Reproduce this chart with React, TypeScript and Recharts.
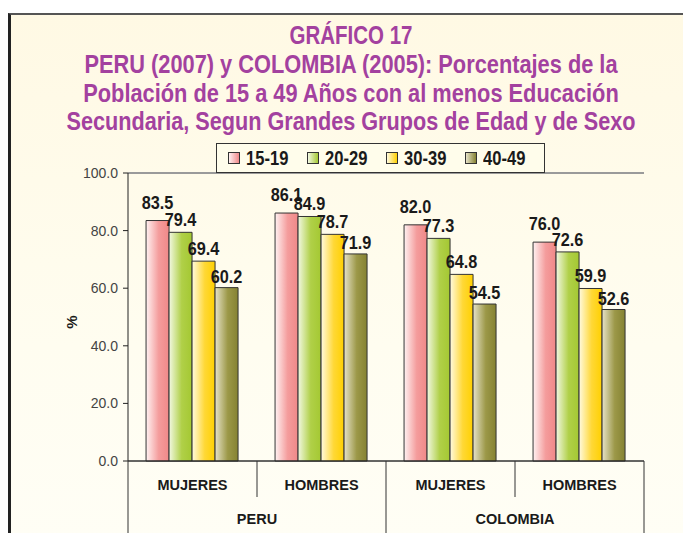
import React from 'react';
import { BarChart, Bar, XAxis, YAxis, CartesianGrid, LabelList, Legend, ReferenceLine } from 'recharts';

const sexes = ['MUJERES', 'HOMBRES', 'MUJERES', 'HOMBRES'];
const countries = ['PERU', 'PERU', 'COLOMBIA', 'COLOMBIA'];
const age15_19 = [83.5, 86.1, 82.0, 76.0];
const age20_29 = [79.4, 84.9, 77.3, 72.6];
const age30_39 = [69.4, 78.7, 64.8, 59.9];
const age40_49 = [60.2, 71.9, 54.5, 52.6];
const yTicks = [0, 20, 40, 60, 80, 100];
const titleLines = [
  'GRÁFICO 17',
  'PERU (2007) y COLOMBIA (2005): Porcentajes de la',
  'Población de 15 a 49 Años con al menos Educación',
  'Secundaria, Segun Grandes Grupos de Edad y de Sexo',
];

const data = sexes.map((s, i) => ({
  sex: s,
  country: countries[i],
  a: age15_19[i],
  b: age20_29[i],
  c: age30_39[i],
  d: age40_49[i],
}));

const series = [
  { key: 'a', name: '15-19', id: 'gPink', light: '#fff2f2', mid: '#f49c9c', dark: '#f08888', labelOffset: 12 },
  { key: 'b', name: '20-29', id: 'gGreen', light: '#f2f8e2', mid: '#b0d048', dark: '#a4c832', labelOffset: 6 },
  { key: 'c', name: '30-39', id: 'gYellow', light: '#fffae0', mid: '#ffd836', dark: '#ffd000', labelOffset: 6 },
  { key: 'd', name: '40-49', id: 'gOlive', light: '#e6e2c8', mid: '#9c9848', dark: '#858232', labelOffset: 5 },
];

const ARIAL = "'Liberation Sans', Arial, sans-serif";

const W = 683;
const H = 533;
const PLOT_LEFT = 128;
const PLOT_RIGHT = 644;
const PLOT_TOP = 173;
const PLOT_BOTTOM = 461;
const BAND = (PLOT_RIGHT - PLOT_LEFT) / data.length;
const TITLE_SCALES = [0.82, 0.872, 0.872, 0.866];
const TITLE_BASELINES = [44, 73, 102, 130];

const CatTick = (props: any) => {
  const { x, y, payload, index } = props;
  const i = payload?.index ?? index;
  const d = data[i];
  const left = x - BAND / 2;
  const right = x + BAND / 2;
  const full = H - y;
  return (
    <g>
      <line x1={left} y1={y} x2={left} y2={i % 2 === 0 ? y + full : y + 36} stroke="#333" strokeWidth={1} />
      {i === data.length - 1 && <line x1={right} y1={y} x2={right} y2={y + full} stroke="#333" strokeWidth={1} />}
      <text x={x} y={y + 29} textAnchor="middle" fill="#1a1a1a" fontSize={14.5} fontWeight="bold" fontFamily={ARIAL}>
        {payload.value}
      </text>
      {i % 2 === 1 && (
        <text x={left} y={y + 63} textAnchor="middle" fill="#1a1a1a" fontSize={14.5} fontWeight="bold" fontFamily={ARIAL}>
          {d.country}
        </text>
      )}
    </g>
  );
};

const makeValueLabel = (off: number) => (props: any) => {
  const { x, y, width, value } = props;
  const cx = Number(x) + Number(width) / 2;
  const by = Number(y) - off;
  return (
    <text
      transform={`translate(${cx} ${by}) scale(0.88 1)`}
      x={0}
      y={0}
      textAnchor="middle"
      fill="#1a1a1a"
      fontSize={18.5}
      fontWeight="bold"
      fontFamily={ARIAL}
    >
      {Number(value).toFixed(1)}
    </text>
  );
};

const LegendContent = () => (
  <div
    style={{
      width: '100%',
      height: '100%',
      boxSizing: 'border-box',
      border: '1px solid #333',
      background: '#fffdeb',
      display: 'flex',
      alignItems: 'center',
      paddingLeft: 11,
    }}
  >
    {series.map((s) => (
      <div key={s.key} style={{ display: 'flex', alignItems: 'center', width: 83 }}>
        <span
          style={{
            display: 'inline-block',
            width: 10,
            height: 10,
            border: '1px solid #333',
            background: `linear-gradient(to right, ${s.light}, ${s.dark})`,
            marginRight: 6,
            flex: '0 0 auto',
          }}
        />
        <span
          style={{
            display: 'inline-block',
            fontFamily: ARIAL,
            fontWeight: 'bold',
            fontSize: 19.5,
            color: '#1a1a1a',
            lineHeight: '20px',
            transform: 'scaleX(0.85)',
            transformOrigin: 'left center',
            whiteSpace: 'nowrap',
          }}
        >
          {s.name}
        </span>
      </div>
    ))}
  </div>
);

const PercentLabel = (props: any) => {
  const { viewBox } = props;
  const cx = 71;
  const cy = viewBox.y + viewBox.height / 2 + 5;
  return (
    <text
      x={cx}
      y={cy}
      transform={`rotate(-90 ${cx} ${cy})`}
      textAnchor="middle"
      dominantBaseline="central"
      fontFamily={ARIAL}
      fontWeight="bold"
      fontSize={15}
      fill="#1a1a1a"
    >
      %
    </text>
  );
};

export default function App() {
  return (
    <div style={{ position: 'absolute', left: 0, top: 0, width: W, height: H, overflow: 'hidden', background: '#ffffff' }}>
      <div
        style={{
          position: 'absolute',
          left: 8,
          top: 13,
          width: W + 20,
          height: H + 20,
          borderLeft: '3px solid #222',
          borderTop: '2px solid #555',
          background: 'linear-gradient(to bottom, #fff9e4, #fffdf0 60%, #fffef6)',
        }}
      />
      <div style={{ position: 'absolute', left: 0, top: 0 }}>
        <BarChart
          width={W}
          height={H}
          data={data}
          margin={{ top: PLOT_TOP, right: W - PLOT_RIGHT, bottom: 0, left: PLOT_LEFT - 60 }}
          barCategoryGap="14%"
          barGap={0}
        >
          <defs>
            {series.map((s) => (
              <linearGradient key={s.id} id={s.id} x1="0" y1="0" x2="1" y2="0">
                <stop offset="0%" stopColor={s.light} />
                <stop offset="55%" stopColor={s.mid} />
                <stop offset="100%" stopColor={s.dark} />
              </linearGradient>
            ))}
          </defs>
          <CartesianGrid vertical={false} stroke="#555" strokeWidth={1} />
          <XAxis
            dataKey="sex"
            interval={0}
            height={H - PLOT_BOTTOM}
            tickSize={0}
            tickMargin={0}
            tickLine={false}
            axisLine={{ stroke: '#222', strokeWidth: 1 }}
            tick={<CatTick />}
          />
          <YAxis
            yAxisId="left"
            width={60}
            domain={[0, 100]}
            ticks={yTicks}
            tickFormatter={(v: number) => v.toFixed(1)}
            tickSize={5}
            tickMargin={5}
            tickLine={{ stroke: '#222' }}
            axisLine={{ stroke: '#222' }}
            tick={{ fill: '#444', fontSize: 14, fontFamily: ARIAL }}
            label={<PercentLabel />}
          />
          <YAxis
            yAxisId="right"
            orientation="right"
            width={0}
            domain={[0, 100]}
            tick={false}
            tickLine={false}
            axisLine={{ stroke: '#9a9a9a', strokeWidth: 2 }}
          />
          <ReferenceLine yAxisId="left" y={100} stroke="#9a9a9a" strokeWidth={2} />
          <Legend
            layout="vertical"
            verticalAlign="middle"
            align="center"
            content={<LegendContent />}
            wrapperStyle={{ position: 'absolute', left: 216, top: 143, width: 329, height: 30, margin: 0 }}
          />
          {series.map((s) => (
            <Bar
              key={s.key}
              yAxisId="left"
              dataKey={s.key}
              name={s.name}
              fill={`url(#${s.id})`}
              stroke="#333"
              strokeWidth={1}
              isAnimationActive={false}
            >
              <LabelList dataKey={s.key} content={makeValueLabel(s.labelOffset)} />
            </Bar>
          ))}
        </BarChart>
      </div>
      <svg width={W} height={140} style={{ position: 'absolute', left: 0, top: 0, pointerEvents: 'none' }}>
        {titleLines.map((t, i) => (
          <text
            key={i}
            transform={`translate(351 ${TITLE_BASELINES[i]}) scale(${TITLE_SCALES[i]} 1)`}
            x={0}
            y={0}
            textAnchor="middle"
            fill="#a3419f"
            fontFamily={ARIAL}
            fontWeight="bold"
            fontSize={25}
          >
            {t}
          </text>
        ))}
      </svg>
    </div>
  );
}
